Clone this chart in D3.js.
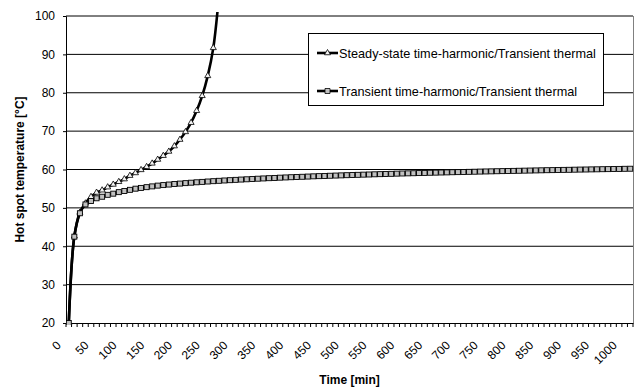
<!DOCTYPE html>
<html>
<head>
<meta charset="utf-8">
<script src="https://cdn.jsdelivr.net/npm/d3@7/dist/d3.min.js"></script>
<style>
  body { margin: 0; background: #fff; }
  text { font-family: "Liberation Sans", Arial, sans-serif; }
</style>
</head>
<body>
<svg id="chart"></svg>
<script>
// time categories [min]
var times = [0, 10, 20, 30, 40, 50, 60, 70, 80, 90,
  100, 110, 120, 130, 140, 150, 160, 170, 180, 190,
  200, 210, 220, 230, 240, 250, 260, 270, 280, 290,
  300, 310, 320, 330, 340, 350, 360, 370, 380, 390,
  400, 410, 420, 430, 440, 450, 460, 470, 480, 490,
  500, 510, 520, 530, 540, 550, 560, 570, 580, 590,
  600, 610, 620, 630, 640, 650, 660, 670, 680, 690,
  700, 710, 720, 730, 740, 750, 760, 770, 780, 790,
  800, 810, 820, 830, 840, 850, 860, 870, 880, 890,
  900, 910, 920, 930, 940, 950, 960, 970, 980, 990,
  1000, 1010];

// Steady-state time-harmonic/Transient thermal (runs away after ~260 min)
var steadyState = [20, 42.6, 48.8, 51.2, 52.9, 54.0, 54.6, 55.4, 56.1, 56.8,
  57.5, 58.4, 59.1, 59.9, 60.7, 61.6, 62.6, 63.6, 64.7, 66.1,
  67.8, 69.8, 72.2, 75.3, 79.2, 84.4, 91.7, 105];

// Transient time-harmonic/Transient thermal
var transient = [20, 42.5, 48.6, 50.9, 51.8, 52.5, 52.9, 53.4, 53.7, 54.1,
  54.4, 54.7, 55.0, 55.2, 55.4, 55.6, 55.8, 55.94, 56.08, 56.21,
  56.33, 56.45, 56.56, 56.67, 56.77, 56.87, 56.96, 57.05, 57.14, 57.22,
  57.30, 57.38, 57.45, 57.53, 57.60, 57.67, 57.74, 57.80, 57.87, 57.93,
  57.99, 58.05, 58.10, 58.16, 58.22, 58.27, 58.32, 58.37, 58.42, 58.47,
  58.52, 58.57, 58.61, 58.66, 58.70, 58.75, 58.79, 58.83, 58.87, 58.92,
  58.96, 59.00, 59.03, 59.07, 59.11, 59.15, 59.18, 59.22, 59.25, 59.29,
  59.32, 59.36, 59.39, 59.42, 59.46, 59.49, 59.52, 59.55, 59.58, 59.61,
  59.64, 59.67, 59.70, 59.73, 59.76, 59.79, 59.82, 59.84, 59.87, 59.90,
  59.92, 59.95, 59.98, 60.00, 60.03, 60.05, 60.08, 60.10, 60.13, 60.15,
  60.18, 60.20];

var yTicks = [20, 30, 40, 50, 60, 70, 80, 90, 100];
var xLabels = [0, 50, 100, 150, 200, 250, 300, 350, 400, 450, 500,
  550, 600, 650, 700, 750, 800, 850, 900, 950, 1000];
var seriesNames = ["Steady-state time-harmonic/Transient thermal",
  "Transient time-harmonic/Transient thermal"];

var width = 643, height = 390;
// plot area edges (window.top is reserved, hence the prefix)
var plotL = 66, plotR = 633, plotT = 16, plotB = 323;

var svg = d3.select("#chart")
  .attr("width", width)
  .attr("height", height);

var x = d3.scaleBand().domain(times).range([plotL, plotR]).padding(0);
var y = d3.scaleLinear().domain([20, 100]).range([plotB, plotT]);
var cx = function(t) { return x(t) + x.bandwidth() / 2; };

// gridlines
svg.append("g").selectAll("line")
  .data(yTicks.slice(1))
  .enter().append("line")
  .attr("x1", plotL).attr("x2", plotR)
  .attr("y1", d => y(d)).attr("y2", d => y(d))
  .attr("stroke", "#000").attr("stroke-width", 1);

// plot area border (right side shows grey)
svg.append("line")
  .attr("x1", plotR + 0.5).attr("x2", plotR + 0.5)
  .attr("y1", plotT).attr("y2", plotB)
  .attr("stroke", "#808080");

// y axis
var yAxis = svg.append("g")
  .attr("transform", "translate(" + plotL + ",0)")
  .call(d3.axisLeft(y).tickValues(yTicks).tickSize(3).tickPadding(8));
yAxis.select(".domain").attr("stroke", "#000");
yAxis.selectAll("text")
  .style("font-size", "12px")
  .attr("fill", "#000");

// x axis labels (every 5th category)
var xAxis = svg.append("g")
  .attr("transform", "translate(0," + plotB + ")")
  .call(d3.axisBottom(x).tickValues(xLabels).tickSize(0).tickPadding(0));
xAxis.select(".domain").attr("stroke", "#000");
xAxis.selectAll("text")
  .style("font-size", "12px")
  .attr("fill", "#000")
  .attr("text-anchor", "end")
  .attr("dy", 0)
  .attr("y", 0)
  .attr("transform", "translate(-7,23) rotate(-45)");

// x tick marks at category boundaries
svg.append("g").selectAll("line")
  .data(times.map(t => x(t)).concat([plotR]))
  .enter().append("line")
  .attr("x1", d => d).attr("x2", d => d)
  .attr("y1", plotB).attr("y2", plotB + 4)
  .attr("stroke", "#000");

// axis titles
svg.append("text")
  .attr("x", (plotL + plotR) / 2)
  .attr("y", 384)
  .attr("text-anchor", "middle")
  .style("font-size", "12px")
  .style("font-weight", "bold")
  .text("Time [min]");

svg.append("text")
  .attr("transform", "translate(24," + ((plotT + plotB) / 2) + ") rotate(-90)")
  .attr("text-anchor", "middle")
  .style("font-size", "12px")
  .style("font-weight", "bold")
  .text("Hot spot temperature [°C]");

// series
svg.append("clipPath").attr("id", "clip")
  .append("rect")
  .attr("x", plotL).attr("y", plotT - 4)
  .attr("width", plotR - plotL + 2).attr("height", plotB - plotT + 6);

var line = d3.line()
  .x(d => cx(d[0]))
  .y(d => y(d[1]))
  .curve(d3.curveCatmullRom.alpha(0.5));

var triPath = d3.symbol().type(d3.symbolTriangle).size(16);

var data1 = steadyState.map((v, i) => [times[i], v]);
var data2 = transient.map((v, i) => [times[i], v]);

var plot = svg.append("g").attr("clip-path", "url(#clip)");

plot.append("path")
  .datum(data1)
  .attr("d", line)
  .attr("fill", "none")
  .attr("stroke", "#000")
  .attr("stroke-width", 2.6);

plot.selectAll(".tri")
  .data(data1)
  .enter().append("path")
  .attr("class", "tri")
  .attr("d", triPath)
  .attr("transform", d => "translate(" + cx(d[0]) + "," + y(d[1]) + ")")
  .attr("fill", "#f4f4f4")
  .attr("stroke", "#000")
  .attr("stroke-width", 0.8);

plot.append("path")
  .datum(data2)
  .attr("d", line)
  .attr("fill", "none")
  .attr("stroke", "#000")
  .attr("stroke-width", 2.6);

plot.selectAll(".sq")
  .data(data2)
  .enter().append("rect")
  .attr("class", "sq")
  .attr("x", d => cx(d[0]) - 2.5)
  .attr("y", d => y(d[1]) - 2.5)
  .attr("width", 5).attr("height", 5)
  .attr("fill", "#c0c0c0")
  .attr("stroke", "#000")
  .attr("stroke-width", 0.9);

// legend
var legend = svg.append("g");
legend.append("rect")
  .attr("x", 308.5).attr("y", 33.5)
  .attr("width", 295).attr("height", 72)
  .attr("fill", "#fff")
  .attr("stroke", "#000");

var entries = legend.selectAll(".entry")
  .data(seriesNames)
  .enter().append("g")
  .attr("class", "entry")
  .attr("transform", (d, i) => "translate(317," + (53 + i * 38) + ")");

entries.append("line")
  .attr("x1", 0).attr("x2", 21)
  .attr("stroke", "#000").attr("stroke-width", 2.6);

entries.append("path")
  .attr("d", (d, i) => i === 0 ? triPath() : "M-2.5,-2.5h5v5h-5z")
  .attr("transform", "translate(10.5,0)")
  .attr("fill", (d, i) => i === 0 ? "#f4f4f4" : "#c0c0c0")
  .attr("stroke", "#000")
  .attr("stroke-width", 0.8);

entries.append("text")
  .attr("x", 22)
  .attr("y", 4.5)
  .style("font-size", "12.7px")
  .text(d => d);
</script>
</body>
</html>
